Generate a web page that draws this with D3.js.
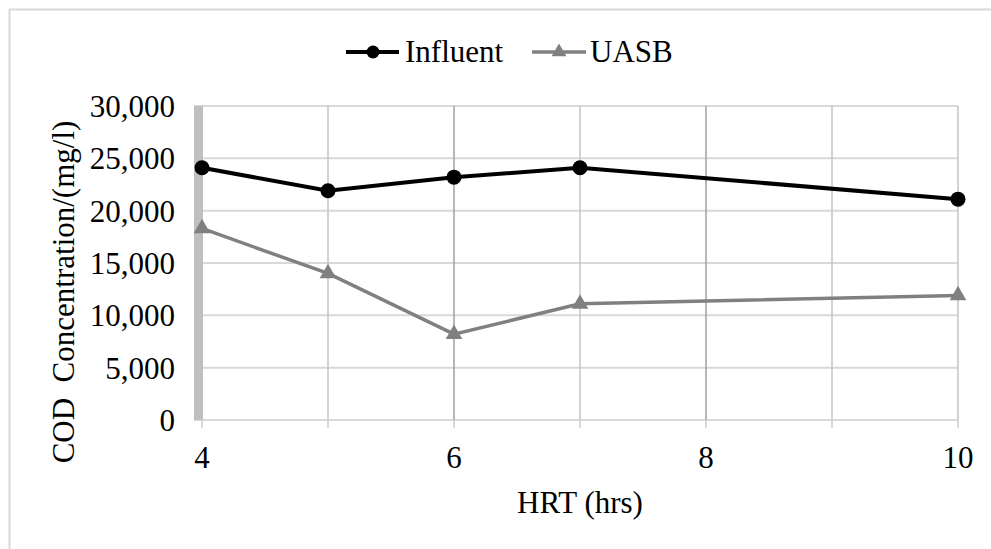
<!DOCTYPE html>
<html>
<head>
<meta charset="utf-8">
<script src="https://cdn.jsdelivr.net/npm/d3@7"></script>
<style>
  body { margin: 0; background: #fff; }
</style>
</head>
<body>
<svg id="chart" width="991" height="549"></svg>
<script>
'use strict';

// data
var hrt = [4, 5, 6, 7, 10];
var influent = [24100, 21900, 23200, 24100, 21100];
var uasb = [18300, 14000, 8200, 11100, 11900];
var xTickLabels = [4, 6, 8, 10];
var xGrid = [5, 6, 7, 8, 9, 10];
var yTicks = [0, 5000, 10000, 15000, 20000, 25000, 30000];

var svg = d3.select('#chart');
var margin = { left: 202, right: 33, top: 106, bottom: 129 };
var width = 991 - margin.left - margin.right;
var height = 549 - margin.top - margin.bottom;

// outer frame (only top and left edges visible)
svg.append('path')
    .attr('d', 'M9.5,549 V9.5 H991')
    .attr('fill', 'none')
    .attr('stroke', '#d9d9d9')
    .attr('stroke-width', 2);

var g = svg.append('g')
    .attr('transform', 'translate(' + margin.left + ',' + margin.top + ')');

var x = d3.scaleLinear().domain([4, 10]).range([0, width]);
var y = d3.scaleLinear().domain([0, 30000]).range([height, 0]);

function addText(sel) {
    return sel.append('text')
        .style('font-family', "'Liberation Serif'")
        .style('font-size', '31px')
        .attr('fill', '#000');
}

// horizontal gridlines
g.selectAll('.hgrid')
    .data(yTicks)
    .enter().append('line')
    .attr('x1', -8)
    .attr('x2', width)
    .attr('y1', function(d) { return y(d); })
    .attr('y2', function(d) { return y(d); })
    .attr('stroke', '#d9d9d9')
    .attr('stroke-width', 2);

// vertical gridlines, even ones darker
g.selectAll('.vgrid')
    .data(xGrid)
    .enter().append('line')
    .attr('x1', function(d) { return x(d); })
    .attr('x2', function(d) { return x(d); })
    .attr('y1', 0)
    .attr('y2', height)
    .attr('stroke', function(d) { return (d === 6 || d === 8) ? '#a0a0a0' : '#c4c4c4'; })
    .attr('stroke-width', 1.5);

// thick bar at the left edge
g.append('rect')
    .attr('x', x(4) - 8)
    .attr('y', 0)
    .attr('width', 9)
    .attr('height', height)
    .attr('fill', '#bfbfbf');

// x axis tick marks below the plot
g.selectAll('.xtick')
    .data(d3.range(4, 11))
    .enter().append('line')
    .attr('x1', function(d) { return x(d); })
    .attr('x2', function(d) { return x(d); })
    .attr('y1', height)
    .attr('y2', height + 8)
    .attr('stroke', '#d9d9d9')
    .attr('stroke-width', 2);

// x tick labels
xTickLabels.forEach(function(d) {
    addText(g)
        .attr('x', x(d))
        .attr('y', height + 48)
        .attr('text-anchor', 'middle')
        .text(d);
});

// y tick labels
var fmt = d3.format(',');
yTicks.forEach(function(d) {
    addText(g)
        .attr('x', -27)
        .attr('y', y(d) + 11)
        .attr('text-anchor', 'end')
        .text(fmt(d));
});

// axis titles
addText(g)
    .attr('x', width / 2)
    .attr('y', height + 93)
    .attr('text-anchor', 'middle')
    .text('HRT (hrs)');

addText(svg)
    .attr('transform', 'translate(74,292) rotate(-90)')
    .attr('text-anchor', 'middle')
    .style('white-space', 'pre')
    .text('COD  Concentration/(mg/l)');

// lines
var line = d3.line()
    .x(function(d) { return x(d[0]); })
    .y(function(d) { return y(d[1]); });

var influentData = hrt.map(function(h, i) { return [h, influent[i]]; });
var uasbData = hrt.map(function(h, i) { return [h, uasb[i]]; });

g.append('path')
    .datum(uasbData)
    .attr('d', line)
    .attr('fill', 'none')
    .attr('stroke', '#808080')
    .attr('stroke-width', 3.5);

var tri = d3.symbol().type(d3.symbolTriangle).size(120);
g.selectAll('.uasb')
    .data(uasbData)
    .enter().append('path')
    .attr('d', tri)
    .attr('transform', function(d) { return 'translate(' + x(d[0]) + ',' + y(d[1]) + ')'; })
    .attr('fill', '#808080');

g.append('path')
    .datum(influentData)
    .attr('d', line)
    .attr('fill', 'none')
    .attr('stroke', '#000')
    .attr('stroke-width', 4);

g.selectAll('.influent')
    .data(influentData)
    .enter().append('circle')
    .attr('cx', function(d) { return x(d[0]); })
    .attr('cy', function(d) { return y(d[1]); })
    .attr('r', 7.5)
    .attr('fill', '#000');

// legend
var legend = svg.append('g').attr('transform', 'translate(0,52)');
legend.append('line')
    .attr('x1', 346).attr('x2', 399).attr('y1', 0).attr('y2', 0)
    .attr('stroke', '#000').attr('stroke-width', 4);
legend.append('circle')
    .attr('cx', 373).attr('cy', 0).attr('r', 6.5).attr('fill', '#000');
addText(legend)
    .attr('x', 405).attr('y', 10)
    .text('Influent');

legend.append('line')
    .attr('x1', 532).attr('x2', 586).attr('y1', 0).attr('y2', 0)
    .attr('stroke', '#808080').attr('stroke-width', 3.5);
legend.append('path')
    .attr('d', d3.symbol().type(d3.symbolTriangle).size(95))
    .attr('transform', 'translate(559,0)')
    .attr('fill', '#808080');
addText(legend)
    .attr('x', 590).attr('y', 10)
    .text('UASB');
</script>
</body>
</html>
